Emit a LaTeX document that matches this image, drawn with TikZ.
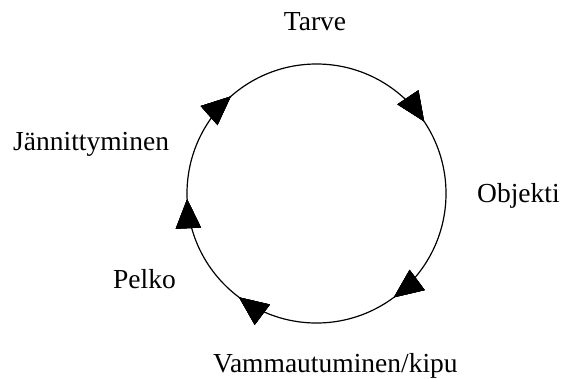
\documentclass[tikz,border=0pt]{standalone}
\usepackage{fontspec}
\setmainfont{Liberation Serif}
\usetikzlibrary{decorations.markings,arrows.meta}

\begin{document}
\begin{tikzpicture}[
            x=1pt, y=-1pt,
            >={Triangle[length=29pt,width=25pt]},
            ->-/.style={decoration={markings, mark=at position #1 with {\arrow{>}}},postaction={decorate}},
            lbl/.style={font=\fontsize{27.5}{30}\selectfont, inner sep=0pt}
        ]
            \useasboundingbox (0,0) rectangle (572,378);

            % the cycle, run clockwise from the top
            \coordinate (c) at (316.5,193.5);
            \draw[line width=1.2pt, ->-=.156, ->-=.398, ->-=.602, ->-=.743, ->-=.885]
                (316.5,64) arc[start angle=-90, end angle=270, radius=129.5];

            \node[lbl, anchor=base] (tarve) at (315,30) {Tarve};
            \node[lbl, anchor=base west] (objekti) at (477,202) {Objekti};
            \node[lbl, anchor=base west] (vamma) at (213,372) {Vammautuminen/kipu};
            \node[lbl, anchor=base west] (pelko) at (113,288) {Pelko};
            \node[lbl, anchor=base west] (jann) at (13,150) {Jännittyminen};
        \end{tikzpicture}
\end{document}
